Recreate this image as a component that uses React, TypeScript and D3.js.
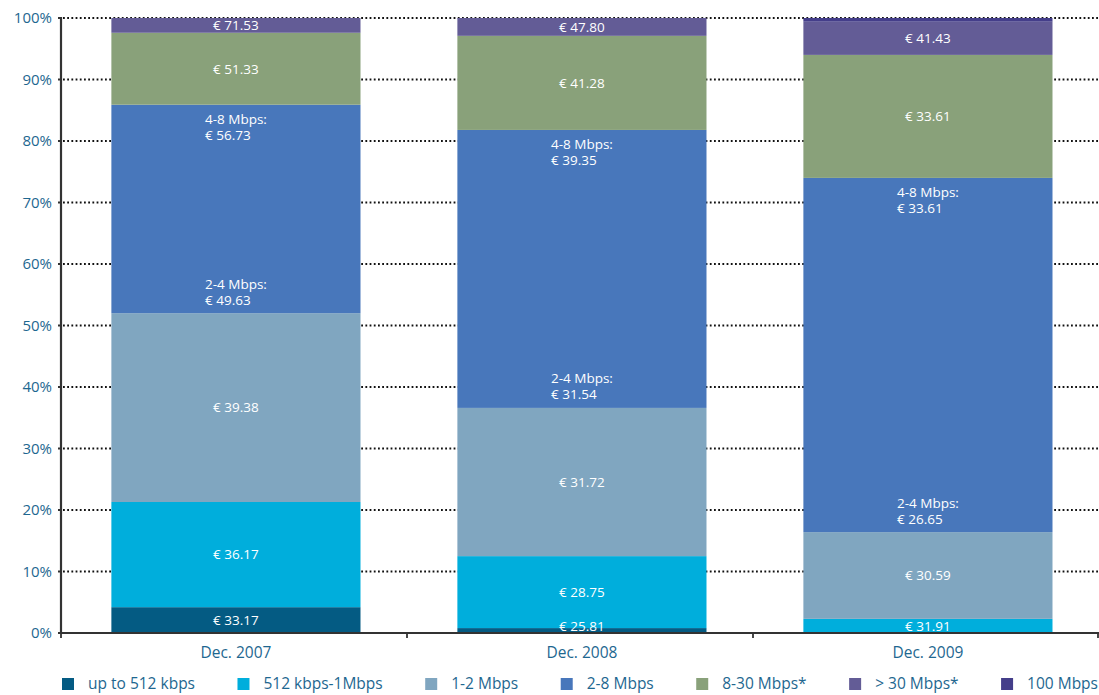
import React, { useEffect, useRef } from "react";
import * as d3 from "d3";

const categories = ["Dec. 2007", "Dec. 2008", "Dec. 2009"];
const seriesNames = ["up to 512 kbps", "512 kbps-1Mbps", "1-2 Mbps", "2-8 Mbps", "8-30 Mbps*", "> 30 Mbps*", "100 Mbps"];
const seriesColors = ["#045b83", "#00aedc", "#80a6c0", "#4877bb", "#89a17a", "#635c96", "#443e8a"];

// share of subscriptions (%) per category
const upTo512 = [4.2, 0.8, 0];
const k512to1M = [17.1, 11.7, 2.3];
const m1to2 = [30.7, 24.1, 14.1];
const m2to8 = [33.9, 45.2, 57.6];
const m8to30 = [11.7, 15.3, 20.0];
const over30 = [2.4, 2.9, 5.4];
const m100 = [0, 0, 0.6];
const seriesValues = [upTo512, k512to1M, m1to2, m2to8, m8to30, over30, m100];

// price labels
const priceUpTo512 = ["€ 33.17", "€ 25.81", null];
const price512to1M = ["€ 36.17", "€ 28.75", "€ 31.91"];
const price1to2 = ["€ 39.38", "€ 31.72", "€ 30.59"];
const price8to30 = ["€ 51.33", "€ 41.28", "€ 33.61"];
const priceOver30 = ["€ 71.53", "€ 47.80", "€ 41.43"];
const price100 = [null, null, null];
const price4to8 = ["€ 56.73", "€ 39.35", "€ 33.61"];
const price2to4 = ["€ 49.63", "€ 31.54", "€ 26.65"];
const seriesPrices = [priceUpTo512, price512to1M, price1to2, null, price8to30, priceOver30, price100];

const yTicks = [0, 10, 20, 30, 40, 50, 60, 70, 80, 90, 100];

const W = 1099;
const H = 695;
const FONT = "'Open Sans', sans-serif";
const AXIS_COLOR = "#1e6790";

export default function App() {
  const ref = useRef<SVGSVGElement>(null);

  useEffect(() => {
    const svg = d3.select(ref.current);
    svg.selectAll("*").remove();

    const left = 61, right = 1099, top = 18, bottom = 633;
    const x = d3.scaleBand<string>().domain(categories).range([left, right]).paddingInner(0.28).paddingOuter(0.14).align(0.52);
    const y = d3.scaleLinear().domain([0, 100]).range([bottom, top]);

    // grid
    svg.append("g").selectAll("line").data(yTicks.filter((t) => t > 0)).join("line")
      .attr("x1", left + 2).attr("x2", right)
      .attr("y1", (d) => y(d)).attr("y2", (d) => y(d))
      .attr("stroke", "#111").attr("stroke-width", 1.8).attr("stroke-dasharray", "1.8 2.4");

    // stacks
    const table = categories.map((c, i) => {
      const row: any = { cat: c };
      seriesNames.forEach((s, j) => (row[s] = seriesValues[j][i]));
      return row;
    });
    const stacked = d3.stack<any>().keys(seriesNames)(table);

    const gBars = svg.append("g");
    stacked.forEach((layer, j) => {
      gBars.append("g").attr("fill", seriesColors[j]).selectAll("rect").data(layer).join("rect")
        .attr("x", (d) => x(d.data.cat)!)
        .attr("width", x.bandwidth())
        .attr("y", (d) => y(d[1]))
        .attr("height", (d) => Math.max(0, y(d[0]) - y(d[1])));
    });

    // segment labels
    const gLab = svg.append("g").attr("font-family", FONT).attr("font-size", 13.5).attr("fill", "#fff");
    stacked.forEach((layer, j) => {
      const prices = seriesPrices[j];
      if (!prices) return;
      layer.forEach((d, i) => {
        const p = prices[i];
        if (!p) return;
        const y0 = y(d[0]), y1 = y(d[1]);
        let cy = (y0 + y1) / 2;
        if (y0 - y1 < 14) cy = y0 - 7;
        gLab.append("text").attr("x", x(d.data.cat)! + x.bandwidth() / 2).attr("y", cy)
          .attr("dy", "0.36em").attr("text-anchor", "middle").text(p);
      });
    });

    // two-line labels in the 2-8 Mbps segment
    const layer28 = stacked[3];
    layer28.forEach((d, i) => {
      const cx = x(d.data.cat)! + x.bandwidth() / 2;
      const segTop = y(d[1]), segBottom = y(d[0]);
      const blocks = [
        { lines: ["4-8 Mbps:", price4to8[i]], y: segTop + 14 },
        { lines: ["2-4 Mbps:", price2to4[i]], y: segBottom - 29.5 },
      ];
      blocks.forEach((b) => {
        const t1 = gLab.append("text").attr("y", b.y).attr("dy", "0.36em").text(b.lines[0]);
        const w = (t1.node() as SVGTextElement).getComputedTextLength();
        const sx = cx - w / 2;
        t1.attr("x", sx);
        gLab.append("text").attr("x", sx).attr("y", b.y + 16).attr("dy", "0.36em").text(b.lines[1]);
      });
    });

    // y axis
    const gy = svg.append("g");
    gy.append("line").attr("x1", left).attr("x2", left).attr("y1", top - 1).attr("y2", bottom + 1)
      .attr("stroke", "#333").attr("stroke-width", 2.2);
    gy.selectAll("line.t").data(yTicks).join("line").attr("class", "t")
      .attr("x1", left - 3).attr("x2", left).attr("y1", (d) => y(d)).attr("y2", (d) => y(d))
      .attr("stroke", "#333").attr("stroke-width", 2);
    gy.selectAll("text").data(yTicks).join("text")
      .attr("x", left - 9).attr("y", (d) => y(d)).attr("dy", "0.36em")
      .attr("text-anchor", "end").attr("font-family", FONT).attr("font-size", 15).attr("fill", AXIS_COLOR)
      .text((d) => d + "%");

    // x axis
    const gx = svg.append("g");
    gx.append("line").attr("x1", left).attr("x2", right).attr("y1", bottom).attr("y2", bottom)
      .attr("stroke", "#333").attr("stroke-width", 2);
    const step = (right - left) / categories.length;
    gx.selectAll("line.t").data(d3.range(categories.length + 1)).join("line").attr("class", "t")
      .attr("x1", (i) => Math.min(right - 1, left + i * step)).attr("x2", (i) => Math.min(right - 1, left + i * step))
      .attr("y1", bottom).attr("y2", bottom + 5).attr("stroke", "#333").attr("stroke-width", 1.8);
    gx.selectAll("text").data(categories).join("text")
      .attr("x", (c) => x(c)! + x.bandwidth() / 2).attr("y", 652).attr("dy", "0.36em")
      .attr("text-anchor", "middle").attr("font-family", FONT).attr("font-size", 15.5).attr("fill", AXIS_COLOR)
      .text((c) => c);

    // legend (flow layout)
    const gL = svg.append("g").attr("font-family", FONT).attr("font-size", 15.5).attr("fill", AXIS_COLOR);
    const texts = seriesNames.map((n) => gL.append("text").attr("y", 683).attr("dy", "0.36em").text(n));
    const widths = texts.map((t) => (t.node() as SVGTextElement).getComputedTextLength());
    const lx0 = 62, lx1 = 1098, sq = 12, gapIn = 14;
    const used = widths.reduce((a, w) => a + sq + gapIn + w, 0);
    const gap = (lx1 - lx0 - used) / (seriesNames.length - 1);
    let cx = lx0;
    seriesNames.forEach((n, j) => {
      gL.append("rect").attr("x", cx).attr("y", 678).attr("width", sq).attr("height", sq).attr("fill", seriesColors[j]);
      texts[j].attr("x", cx + sq + gapIn);
      cx += sq + gapIn + widths[j] + gap;
    });
  }, []);

  return (
    <svg ref={ref} width={W} height={H} style={{ position: "absolute", left: 0, top: 0, background: "#fff" }} />
  );
}
